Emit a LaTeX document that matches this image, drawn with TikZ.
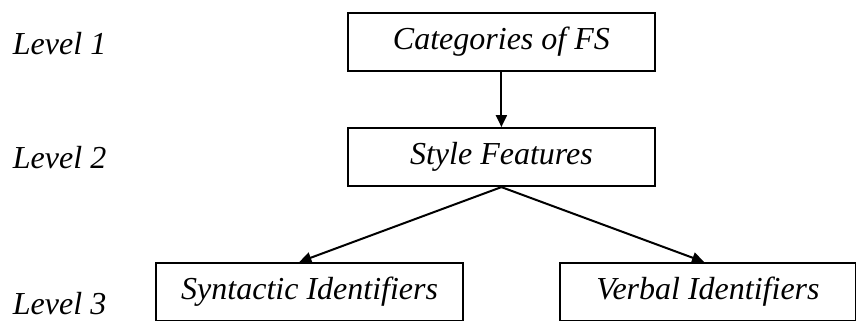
\documentclass[tikz,border=0pt]{standalone}
\usepackage{fontspec}
\setmainfont{Liberation Serif}
\usetikzlibrary{arrows.meta}
\begin{document}
\begin{tikzpicture}[>={Triangle[length=6pt,width=5.5pt]},line width=1pt,font=\fontsize{16}{19}\selectfont\itshape]
	  \tikzset{box/.style={draw,minimum height=1.02cm,inner sep=0pt},
	    lvl/.style={anchor=west,inner sep=0pt}}
	  \useasboundingbox (0,0) rectangle (15.04,-5.64);
	  \node[lvl] (l1) at (0.21,-0.76) {Level 1};
	  \node[lvl] (l2) at (0.21,-2.76) {Level 2};
	  \node[lvl] (l3) at (0.21,-5.33) {Level 3};
	  \node[box,minimum width=5.40cm] (cat) at (8.81,-0.74) {Categories of FS};
	  \node[box,minimum width=5.40cm] (sty) at (8.81,-2.76) {Style Features};
	  \node[box,minimum width=5.40cm] (syn) at (5.44,-5.13) {Syntactic Identifiers};
	  \node[box,minimum width=5.20cm] (ver) at (12.44,-5.13) {Verbal Identifiers};
	  \draw[->] (cat) -- (sty);
	  \draw[->] (sty.south) -- ([xshift=-0.18cm]syn.north);
	  \draw[->] (sty.south) -- ([xshift=-0.07cm]ver.north);
	\end{tikzpicture}
\end{document}
